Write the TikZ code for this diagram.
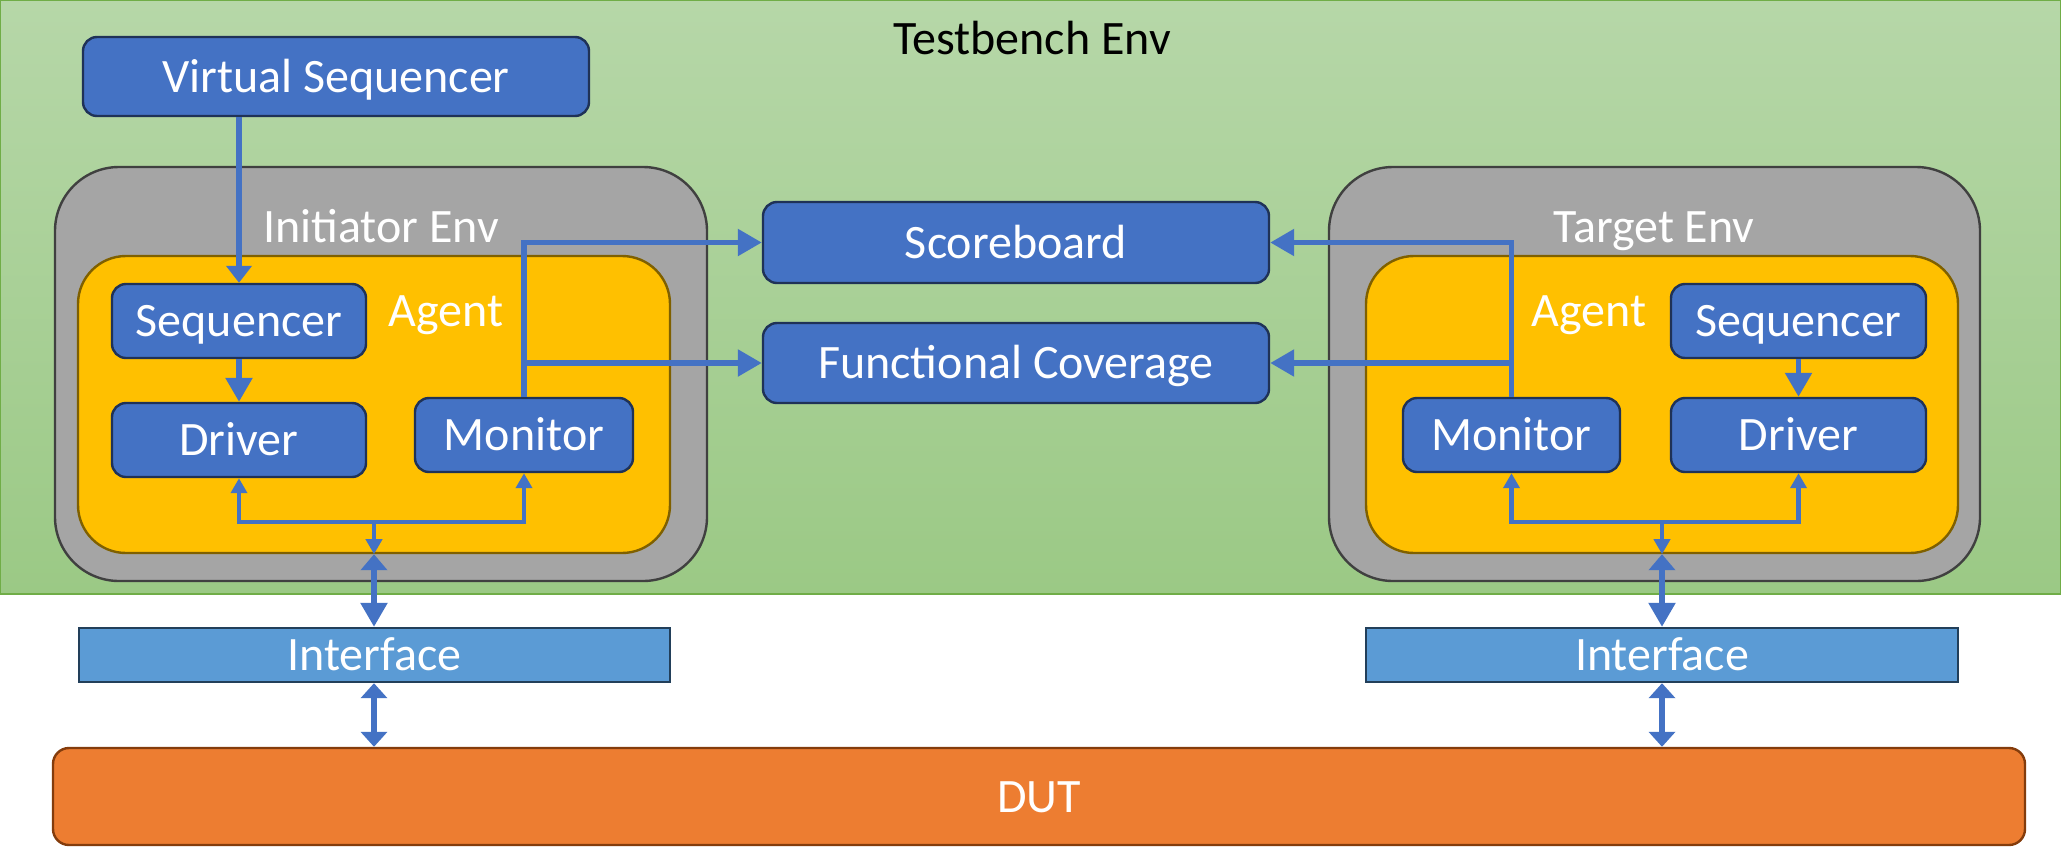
\documentclass[tikz,border=0pt]{standalone}
\usepackage{fontspec}
\setmainfont{Carlito}
\usetikzlibrary{arrows.meta,fit}

\definecolor{blueFill}{HTML}{4472C4}
\definecolor{blueEdge}{HTML}{1F3257}
\definecolor{lineBlue}{HTML}{4472C4}
\definecolor{envFill}{HTML}{A5A5A5}
\definecolor{envEdge}{HTML}{404040}
\definecolor{agentFill}{HTML}{FFC000}
\definecolor{agentEdge}{HTML}{7F6000}
\definecolor{ifFill}{HTML}{5B9BD5}
\definecolor{ifEdge}{HTML}{223F5A}
\definecolor{dutFill}{HTML}{ED7D31}
\definecolor{dutEdge}{HTML}{843C0C}
\definecolor{tbTop}{HTML}{B6D7A8}
\definecolor{tbBottom}{HTML}{9BC985}
\definecolor{tbEdge}{HTML}{70AD47}

\newcommand{\lblfont}{\fontsize{24pt}{29pt}\selectfont}

\tikzset{
  TipL/.tip={Triangle[length=12pt,width=13pt]},
  TipM/.tip={Triangle[length=8pt,width=13pt]},
  TipW/.tip={Triangle[length=7.5pt,width=13pt]},
  TipS/.tip={Triangle[length=7.5pt,width=8pt]},
  lbl/.style={font=\lblfont, text height=15.5pt, text depth=0pt, inner sep=0pt, text=white},
  txt/.style={label={[lbl]center:#1}},
  box/.style={draw=blueEdge, line width=1.2pt, fill=blueFill, rounded corners=7pt, inner sep=0pt},
  envbox/.style={draw=envEdge, line width=1.2pt, fill=envFill, rounded corners=32pt, inner sep=0pt},
  agentbox/.style={draw=agentEdge, line width=1.2pt, fill=agentFill, rounded corners=24pt, inner sep=0pt},
  ifbox/.style={draw=ifEdge, line width=1.2pt, fill=ifFill, inner sep=0pt},
  dutbox/.style={draw=dutEdge, line width=1.2pt, fill=dutFill, rounded corners=8pt, inner sep=0pt},
  conn/.style={draw=lineBlue, line width=2.7pt},
  busline/.style={draw=lineBlue, line width=2.1pt},
}

\begin{document}
\begin{tikzpicture}[x=0.5pt,y=-0.5pt]
\useasboundingbox (0,0) rectangle (2061,847);
\fill[white] (0,0) rectangle (2061,847);

% testbench environment
\node[fit={(0,0)(2061,594)}, inner sep=0pt, draw=tbEdge, line width=1pt,
      top color=tbTop, bottom color=tbBottom] (tb) {};
\node[lbl, text=black] (tblbl) at (1032,39) {Testbench Env};

% virtual sequencer
\node[box, fit={(83,37)(589,116)}, txt=Virtual Sequencer] (vs) {};

% initiator side
\node[envbox, fit={(55,167)(707,581)}] (envL) {};
\node[lbl] (envLlbl) at (381,227) {Initiator Env};
\node[agentbox, fit={(78,256)(670,553)}] (agL) {};
\node[lbl] (agLlbl) at (446,311) {Agent};
\node[box, fit={(112,284)(366,358)}, txt=Sequencer] (seqL) {};
\node[box, fit={(112,403)(366,477)}, txt=Driver] (drvL) {};
\node[box, fit={(415,398)(633,472)}, txt=Monitor] (monL) {};

% analysis components
\node[box, fit={(763,202)(1269,283)}, txt=Scoreboard] (sb) {};
\node[box, fit={(763,323)(1269,403)}, txt=Functional Coverage] (fc) {};

% target side
\node[envbox, fit={(1329,167)(1980,581)}] (envR) {};
\node[lbl] (envRlbl) at (1654,227) {Target Env};
\node[agentbox, fit={(1366,256)(1958,553)}] (agR) {};
\node[lbl] (agRlbl) at (1589,311) {Agent};
\node[box, fit={(1671,284)(1926,358)}, txt=Sequencer] (seqR) {};
\node[box, fit={(1671,398)(1926,472)}, txt=Driver] (drvR) {};
\node[box, fit={(1403,398)(1620,472)}, txt=Monitor] (monR) {};

% interfaces and DUT
\node[ifbox, fit={(79,628)(670,682)}, txt=Interface] (ifL) {};
\node[ifbox, fit={(1366,628)(1958,682)}, txt=Interface] (ifR) {};
\node[dutbox, fit={(53,748)(2025,845)}, txt=DUT] (dut) {};

% bus junction points
\coordinate (busL) at (374,522);
\coordinate (busR) at (1662,522);

% sequencing connections
\draw[conn, -{Triangle[length=8.5pt,width=12.5pt]}] (seqL.north |- vs.south) -- (seqL.north);
\draw[conn, -TipL] (seqL.south) -- (drvL.north);
\draw[conn, -TipL] (seqR.south) -- (drvR.north);

% monitor analysis ports
\draw[conn, -TipL] (monL.north) |- (sb.west);
\draw[conn, -TipL] (monL.north |- fc.west) -- (fc.west);
\draw[conn, -TipL] (monR.north) |- (sb.east);
\draw[conn, -TipL] (monR.north |- fc.east) -- (fc.east);

% agent internal bus
\draw[busline, TipS-TipS] (drvL.south) -- (drvL.south |- busL) -- (monL.south |- busL) -- (monL.south);
\draw[busline, -TipS] (busL) -- (busL |- agL.south);
\draw[busline, TipS-TipS] (monR.south) -- (monR.south |- busR) -- (drvR.south |- busR) -- (drvR.south);
\draw[busline, -TipS] (busR) -- (busR |- agR.south);

% agent to interface to DUT
\draw[conn, TipM-TipL] (busL |- agL.south) -- (busL |- ifL.north);
\draw[conn, TipW-TipW] (busL |- ifL.south) -- (busL |- dut.north);
\draw[conn, TipM-TipL] (busR |- agR.south) -- (busR |- ifR.north);
\draw[conn, TipW-TipW] (busR |- ifR.south) -- (busR |- dut.north);
\end{tikzpicture}
\end{document}
